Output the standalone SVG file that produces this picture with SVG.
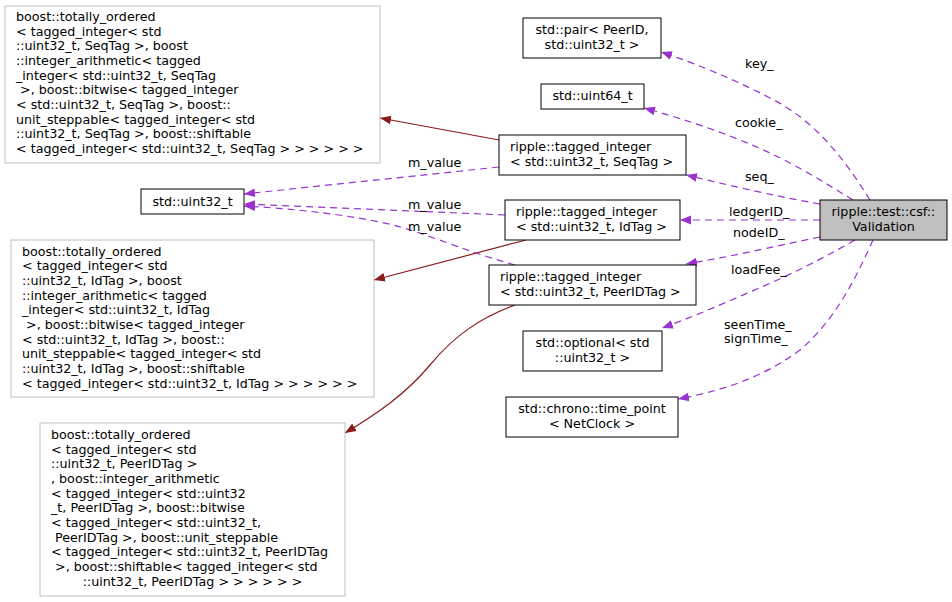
<svg xmlns="http://www.w3.org/2000/svg" width="952" height="602" viewBox="0 0 952 602">
<style>
text{font-family:"DejaVu Sans",sans-serif;font-size:12.7px;fill:#000;white-space:pre}
.g{fill:#fff;stroke:#bfbfbf;stroke-width:1}
.b{fill:#fff;stroke:#000;stroke-width:1}
.r{fill:none;stroke:#8b1a1a;stroke-width:1.2}
.p{fill:none;stroke:#9a32cd;stroke-width:1.2;stroke-dasharray:7,5}
.c{text-anchor:middle}
</style>
<defs>
<marker id="ar" viewBox="0 0 10 10" refX="10" refY="5" markerWidth="11" markerHeight="11" markerUnits="userSpaceOnUse" orient="auto"><path d="M0,1 L10,5 L0,9 z" fill="#8b1a1a"/></marker>
<marker id="ap" viewBox="0 0 10 10" refX="10" refY="5" markerWidth="11" markerHeight="11" markerUnits="userSpaceOnUse" orient="auto"><path d="M0,1 L10,5 L0,9 z" fill="#9a32cd"/></marker>
</defs>
<g id="connectors">
<path class="r" marker-end="url(#ar)" d="M499,140 L380,118"/>
<path class="r" marker-end="url(#ar)" d="M526,240 L374,280"/>
<path class="r" marker-end="url(#ar)" d="M515,305 C480,318 455,335 430,365 C405,395 375,415 345,433"/>
<path class="p" marker-end="url(#ap)" d="M499,167 L244,194"/>
<path class="p" marker-end="url(#ap)" d="M505,215 L244,204"/>
<path class="p" marker-end="url(#ap)" d="M515,265 C460,250 420,230 380,222 C330,212 280,208 244,206"/>
<path class="p" marker-end="url(#ap)" d="M870,200 C845,160 815,120 770,98 C735,80 700,65 661,52"/>
<path class="p" marker-end="url(#ap)" d="M853,200 C820,180 790,160 740,140 C710,128 680,118 644,108"/>
<path class="p" marker-end="url(#ap)" d="M820,204 C780,197 740,188 686,175"/>
<path class="p" marker-end="url(#ap)" d="M820,220 L680,220"/>
<path class="p" marker-end="url(#ap)" d="M820,237 C780,245 740,255 686,264"/>
<path class="p" marker-end="url(#ap)" d="M855,240 C820,260 790,275 750,292 C720,305 690,318 662,328"/>
<path class="p" marker-end="url(#ap)" d="M873,240 C855,280 835,320 800,350 C760,380 715,392 678,399"/>
<text x="408" y="167">m_value</text>
<text x="408" y="209">m_value</text>
<text x="408" y="231">m_value</text>
<text x="745" y="68">key_</text>
<text x="735" y="127">cookie_</text>
<text x="745" y="181">seq_</text>
<text x="729" y="216">ledgerID_</text>
<text x="733" y="237">nodeID_</text>
<text x="731" y="274">loadFee_</text>
<text x="724" y="329">seenTime_</text>
<text x="724" y="343">signTime_</text>
</g>
<g id="n_seqboost"><rect class="g" x="5" y="6" width="375" height="157"/>
<text x="16" y="21">boost::totally_ordered</text>
<text x="16" y="36">&lt; tagged_integer&lt; std</text>
<text x="16" y="50">::uint32_t, SeqTag &gt;, boost</text>
<text x="16" y="65">::integer_arithmetic&lt; tagged</text>
<text x="16" y="80">_integer&lt; std::uint32_t, SeqTag</text>
<text x="16" y="94"> &gt;, boost::bitwise&lt; tagged_integer</text>
<text x="16" y="109">&lt; std::uint32_t, SeqTag &gt;, boost::</text>
<text x="16" y="124">unit_steppable&lt; tagged_integer&lt; std</text>
<text x="16" y="138">::uint32_t, SeqTag &gt;, boost::shiftable</text>
<text x="16" y="153">&lt; tagged_integer&lt; std::uint32_t, SeqTag &gt; &gt; &gt; &gt; &gt; &gt;</text></g>
<g id="n_uint32"><rect class="b" x="141" y="189" width="103" height="25"/><text class="c" x="192.5" y="206">std::uint32_t</text></g>
<g id="n_idboost"><rect class="g" x="11" y="240" width="363" height="157"/>
<text x="22" y="256">boost::totally_ordered</text>
<text x="22" y="270">&lt; tagged_integer&lt; std</text>
<text x="22" y="285">::uint32_t, IdTag &gt;, boost</text>
<text x="22" y="300">::integer_arithmetic&lt; tagged</text>
<text x="22" y="314">_integer&lt; std::uint32_t, IdTag</text>
<text x="22" y="329"> &gt;, boost::bitwise&lt; tagged_integer</text>
<text x="22" y="344">&lt; std::uint32_t, IdTag &gt;, boost::</text>
<text x="22" y="358">unit_steppable&lt; tagged_integer&lt; std</text>
<text x="22" y="373">::uint32_t, IdTag &gt;, boost::shiftable</text>
<text x="22" y="388">&lt; tagged_integer&lt; std::uint32_t, IdTag &gt; &gt; &gt; &gt; &gt; &gt;</text></g>
<g id="n_peerboost"><rect class="g" x="40" y="423" width="305" height="173"/>
<text x="51" y="439">boost::totally_ordered</text>
<text x="51" y="454">&lt; tagged_integer&lt; std</text>
<text x="51" y="468">::uint32_t, PeerIDTag &gt;</text>
<text x="51" y="483">, boost::integer_arithmetic</text>
<text x="51" y="498">&lt; tagged_integer&lt; std::uint32</text>
<text x="51" y="512">_t, PeerIDTag &gt;, boost::bitwise</text>
<text x="51" y="527">&lt; tagged_integer&lt; std::uint32_t,</text>
<text x="51" y="542"> PeerIDTag &gt;, boost::unit_steppable</text>
<text x="51" y="556">&lt; tagged_integer&lt; std::uint32_t, PeerIDTag</text>
<text x="51" y="571"> &gt;, boost::shiftable&lt; tagged_integer&lt; std</text>
<text class="c" x="192.5" y="586">::uint32_t, PeerIDTag &gt; &gt; &gt; &gt; &gt; &gt;</text></g>
<g id="n_pair"><rect class="b" x="523" y="18" width="138" height="40"/><text class="c" x="592" y="34">std::pair&lt; PeerID,</text><text class="c" x="592" y="49">std::uint32_t &gt;</text></g>
<g id="n_uint64"><rect class="b" x="541" y="84" width="103" height="25"/><text class="c" x="592.5" y="100">std::uint64_t</text></g>
<g id="n_seq"><rect class="b" x="499" y="135" width="187" height="40"/><text x="510" y="151">ripple::tagged_integer</text><text x="510" y="166">&lt; std::uint32_t, SeqTag &gt;</text></g>
<g id="n_id"><rect class="b" x="505" y="200" width="175" height="40"/><text x="516" y="216">ripple::tagged_integer</text><text x="516" y="231">&lt; std::uint32_t, IdTag &gt;</text></g>
<g id="n_peer"><rect class="b" x="489" y="265" width="207" height="40"/><text x="500" y="281">ripple::tagged_integer</text><text x="500" y="296">&lt; std::uint32_t, PeerIDTag &gt;</text></g>
<g id="n_opt"><rect class="b" x="523" y="331" width="139" height="40"/><text class="c" x="592.5" y="347">std::optional&lt; std</text><text class="c" x="592.5" y="362">::uint32_t &gt;</text></g>
<g id="n_chrono"><rect class="b" x="506" y="397" width="172" height="40"/><text class="c" x="592" y="413">std::chrono::time_point</text><text class="c" x="592" y="428">&lt; NetClock &gt;</text></g>
<g id="n_validation"><rect x="820" y="200" width="127" height="40" fill="#bfbfbf" stroke="#000"/><text class="c" x="883.5" y="216">ripple::test::csf::</text><text class="c" x="883.5" y="231">Validation</text></g>
</svg>
